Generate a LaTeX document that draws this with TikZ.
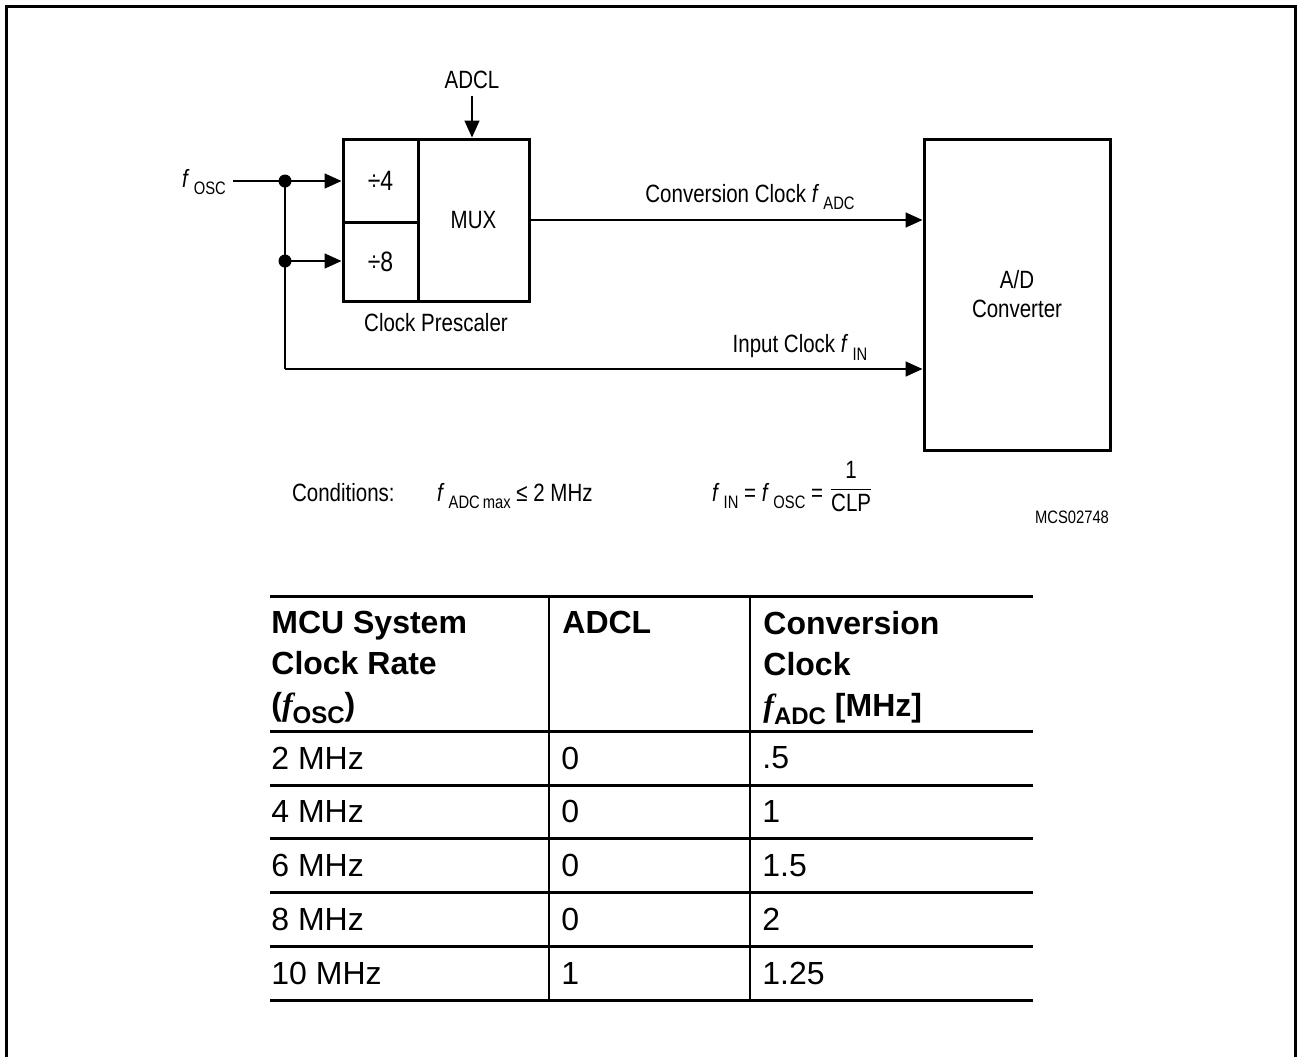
\documentclass[tikz,border=0pt]{standalone}
\usepackage{amsmath}
\usepackage{fontspec}
\setmainfont{Liberation Sans}
\newfontfamily\narrowfont[FakeStretch=0.82]{Liberation Sans}
\newfontfamily\fserif{Liberation Serif}
\usetikzlibrary{arrows.meta}

% signal name: italic f with a lowered index
\newcommand{\fsig}[1]{\textit{f}\,\raisebox{-0.6ex}{\fontsize{9}{10}\selectfont #1}}
\newcommand{\fbig}[1]{{\fserif\bfseries\itshape f}\raisebox{-0.45ex}{\fontsize{12}{12}\selectfont\bfseries #1}}

\begin{document}
\begin{tikzpicture}[x=0.5pt,y=-0.5pt,
  dia/.style={font=\narrowfont\fontsize{12.5}{14.5}\selectfont},
  blk/.style={dia,draw,line width=1.5pt,inner sep=0pt,align=center},
  wire/.style={line width=0.8pt},
  arr/.style={wire,-{Triangle[length=8.5pt,width=7.5pt]}},
  cell/.style={anchor=west,inner sep=0pt,font=\fontsize{16}{20.5}\selectfont},
  hcell/.style={anchor=north west,inner sep=0pt,align=left,font=\bfseries\fontsize{16}{20.5}\selectfont},
  rule/.style={line width=1.5pt}]
\useasboundingbox (0,0) rectangle (1297,1057);

% Frame
\draw[line width=1.5pt] (6,1057) -- (6,6) -- (1295,6) -- (1295,1057);

% Clock prescaler
\node[blk,minimum width=37.5pt,minimum height=41.5pt] (div4) at (380.5,180.5) {\fontsize{14}{14}\selectfont ÷4};
\node[blk,minimum width=37.5pt,minimum height=39.5pt] (div8) at (380.5,261.5) {\fontsize{14}{14}\selectfont ÷8};
\node[blk,minimum width=55.5pt,minimum height=81pt] (mux) at (473.5,220) {MUX};
\node[dia] (presc) at (436,323) {Clock Prescaler};

% A/D converter
\node[blk,minimum width=93pt,minimum height=155.5pt] (adc) at (1017,294.5) {A/D\\Converter};

% Inputs
\node[dia] (adcl) at (472,80) {ADCL};
\node[dia] (fosc) at (204,182) {\fsig{OSC}};
\coordinate (j1) at (285,181);
\coordinate (j2) at (285,261);
\coordinate (j3) at (285,369);
\draw[wire] (fosc.east |- j1) -- (j1);
\draw[wire] (j1) -- (j3);
\draw[arr] (j1) -- (j1 -| div4.west);
\draw[arr] (j2) -- (j2 -| div8.west);
\draw[arr] (j3) -- (j3 -| adc.west);
\fill (j1) circle (6.5);
\fill (j2) circle (6.5);
\draw[arr] (adcl) -- (adcl |- mux.north);

% Clock lines
\draw[arr] (mux.east) -- (mux.east -| adc.west);
\node[dia] (convlbl) at (750,197) {Conversion Clock \fsig{ADC}};
\node[dia] (inlbl) at (800,347) {Input Clock \fsig{IN}};

% Conditions
\node[dia,anchor=base west] (cond) at (285,501) {Conditions:};
\node[dia,anchor=base west] (fmax) at (430,501) {\fsig{ADC\,max} ≤ 2 MHz};
\node[dia,anchor=base west] (fin) at (705,501) {\fsig{IN} = \fsig{OSC} = \raisebox{3pt}{$\displaystyle\frac{\hbox{1}}{\hbox{CLP}}$}};
\node[font=\narrowfont\fontsize{9}{10}\selectfont] (code) at (1072,517) {MCS02748};

% Table
\draw[rule] (270,596) -- (1033,596);
\draw[rule] (270,731) -- (1033,731);
\foreach \y in {785,838,892,946,1000}
  \draw[rule] (270,\y) -- (1033,\y);
\draw[line width=1pt] (549,596) -- (549,1000);
\draw[line width=1pt] (750,596) -- (750,1000);

\node[hcell] (hrate) at (271,611) {MCU System\\Clock Rate\\(\fbig{OSC})};
\node[hcell] (hadcl) at (562,611) {ADCL};
\node[hcell] (hconv) at (763,611) {Conversion\\Clock\\\fbig{ADC} [MHz]};

\foreach \rate/\adcl/\fadc [count=\i] in {2 MHz/0/.5, 4 MHz/0/1, 6 MHz/0/1.5, 8 MHz/0/2, 10 MHz/1/1.25} {
  \node[cell] (rate\i) at (271,{758+53.8*(\i-1)}) {\rate};
  \node[cell] (adcl\i) at (561,{758+53.8*(\i-1)}) {\adcl};
  \node[cell] (fadc\i) at (762,{758+53.8*(\i-1)}) {\fadc};
}
\end{tikzpicture}
\end{document}
